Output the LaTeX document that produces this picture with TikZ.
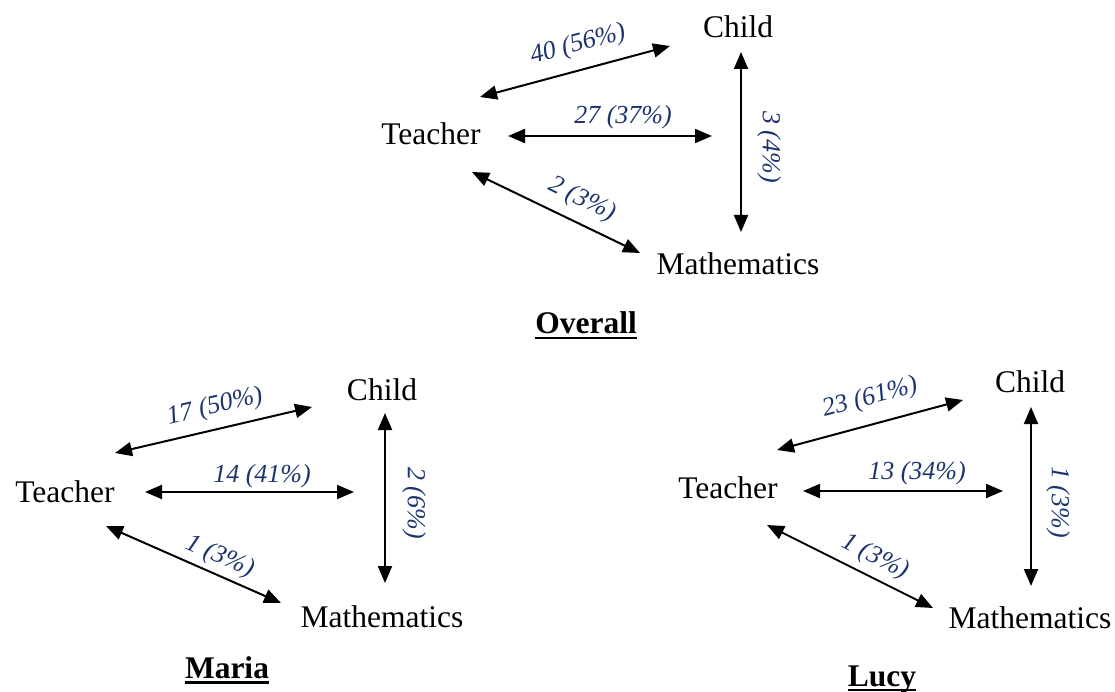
\documentclass[tikz,border=0pt]{standalone}
\usepackage{fontspec}
\setmainfont{Liberation Serif}
\usetikzlibrary{arrows.meta}
\definecolor{lblblue}{RGB}{28,52,110}
\tikzset{
  ent/.style={inner sep=0pt, font=\fontsize{31.5}{36}\selectfont},
  ttl/.style={inner sep=0pt, anchor=base, font=\fontsize{31.5}{36}\selectfont\bfseries},
  uline/.style={line width=2.6pt},
  lbl/.style={inner sep=0pt, text=lblblue, font=\fontsize{26}{30}\selectfont\itshape},
  conn/.style={line width=2pt, {Triangle[length=17pt,width=14pt]}-{Triangle[length=17pt,width=14pt]}}
}
\begin{document}
\begin{tikzpicture}[x=1pt,y=-1pt]
\useasboundingbox (0,0) rectangle (1115,692);
% ---------- Overall ----------
\node[ent] (oC) at (738,27) {Child};
\node[ent] (oT) at (431,134) {Teacher};
\node[ent] (oM) at (738,264) {Mathematics};
\node[ttl] (oO) at (586,333) {Overall};
\draw[uline] ([yshift=-5pt]oO.base west) -- ([yshift=-5pt]oO.base east);
\coordinate (oTC1) at (480,97); \coordinate (oTC2) at (670,46);
\coordinate (oH1) at (508,136); \coordinate (oH2) at (712,136);
\coordinate (oV1) at (741,52); \coordinate (oV2) at (741,232);
\coordinate (oTM1) at (472,172); \coordinate (oTM2) at (640,253);
\draw[conn] (oTC1) -- (oTC2);
\draw[conn] (oH1) -- (oH2);
\draw[conn] (oV1) -- (oV2);
\draw[conn] (oTM1) -- (oTM2);
\node[lbl, rotate=15] (oL1) at (578,45) {40 (56\%)};
\node[lbl] (oL2) at (623,117) {27 (37\%)};
\node[lbl, rotate=-90] (oL3) at (769,147) {3 (4\%)};
\node[lbl, rotate=-26] (oL4) at (582,200) {2 (3\%)};
% ---------- Maria ----------
\node[ent] (mC) at (382,390) {Child};
\node[ent] (mT) at (65,492) {Teacher};
\node[ent] (mM) at (382,617) {Mathematics};
\node[ttl] (mO) at (227,678) {Maria};
\draw[uline] ([yshift=-4.5pt]mO.base west) -- ([yshift=-4.5pt]mO.base east);
\coordinate (mTC1) at (115,453); \coordinate (mTC2) at (312,407);
\coordinate (mH1) at (145,492); \coordinate (mH2) at (354,492);
\coordinate (mV1) at (385,413); \coordinate (mV2) at (385,583);
\coordinate (mTM1) at (106,526); \coordinate (mTM2) at (281,603);
\draw[conn] (mTC1) -- (mTC2);
\draw[conn] (mH1) -- (mH2);
\draw[conn] (mV1) -- (mV2);
\draw[conn] (mTM1) -- (mTM2);
\node[lbl, rotate=13] (mL1) at (215,407) {17 (50\%)};
\node[lbl] (mL2) at (262,476) {14 (41\%)};
\node[lbl, rotate=-90] (mL3) at (414,503) {2 (6\%)};
\node[lbl, rotate=-24] (mL4) at (220,557) {1 (3\%)};
% ---------- Lucy ----------
\node[ent] (lC) at (1030,382) {Child};
\node[ent] (lT) at (728,488) {Teacher};
\node[ent] (lM) at (1030,618) {Mathematics};
\node[ttl] (lO) at (882,686) {Lucy};
\draw[uline] ([yshift=-4pt]lO.base west) -- ([yshift=-4pt]lO.base east);
\coordinate (lTC1) at (777,450); \coordinate (lTC2) at (963,400);
\coordinate (lH1) at (803,491); \coordinate (lH2) at (1003,491);
\coordinate (lV1) at (1031,407); \coordinate (lV2) at (1031,586);
\coordinate (lTM1) at (767,525); \coordinate (lTM2) at (933,608);
\draw[conn] (lTC1) -- (lTC2);
\draw[conn] (lH1) -- (lH2);
\draw[conn] (lV1) -- (lV2);
\draw[conn] (lTM1) -- (lTM2);
\node[lbl, rotate=15] (lL1) at (870,398) {23 (61\%)};
\node[lbl] (lL2) at (917,473) {13 (34\%)};
\node[lbl, rotate=-90] (lL3) at (1058,502) {1 (3\%)};
\node[lbl, rotate=-27] (lL4) at (875,557) {1 (3\%)};
\end{tikzpicture}
\end{document}
